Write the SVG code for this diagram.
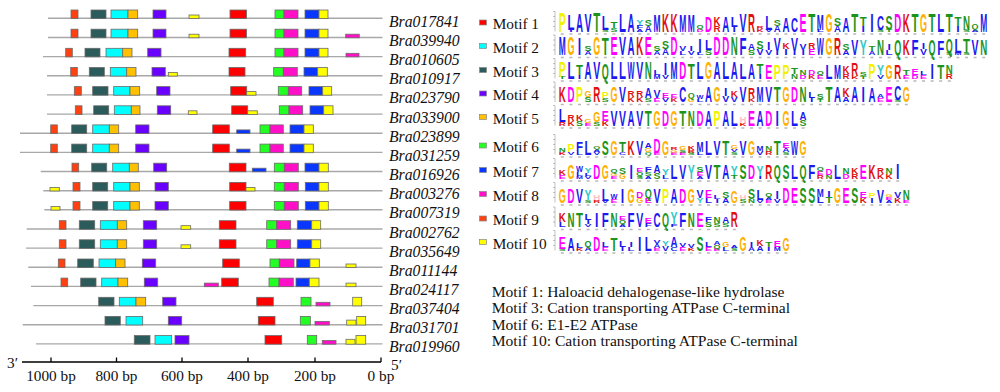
<svg xmlns="http://www.w3.org/2000/svg" width="1000" height="392" viewBox="0 0 1000 392">
<style>
.ln{stroke:#a8a8a8;stroke-width:1.4}
.bx rect{stroke:#6a6a6a;stroke-width:.8}
.m1{fill:#ff0000}.m2{fill:#00ffff}.m3{fill:#2b5b5b}.m4{fill:#6a00ff}.m5{fill:#ffc000}.m6{fill:#22ff22}.m7{fill:#0a37ff}.m8{fill:#ff10c8}.m9{fill:#ff4010}.m10{fill:#ffff00}
.gn{font-family:"Liberation Serif","Times New Roman",serif;font-style:italic;font-size:15.7px;fill:#111}
.tx{font-family:"Liberation Serif","Times New Roman",serif;font-size:15.3px;fill:#111}
.nt{font-size:15.6px}
.lg{font-family:"Liberation Sans",Arial,sans-serif;font-weight:700;font-size:13.97px}
.cb{fill:#1a1af0}.cg{fill:#1c941c}.cm{fill:#ff00ff}.cr{fill:#e01010}.co{fill:#ffb000}.cy{fill:#f2f200}.cp{fill:#ffc0c8}.cc{fill:#30c8c8}
.ax{stroke:#999;stroke-width:.6;fill:none}
.nm{stroke:#b8b8b8;stroke-width:1.6;stroke-dasharray:3 5.6}
.sq{stroke:#888;stroke-width:.7}
</style>
<defs>
<text id="A" class="lg cb" x=".8" textLength="7" lengthAdjust="spacingAndGlyphs">A</text>
<text id="C" class="lg cb" x=".8" textLength="7" lengthAdjust="spacingAndGlyphs">C</text>
<text id="F" class="lg cb" x=".8" textLength="7" lengthAdjust="spacingAndGlyphs">F</text>
<text id="I" class="lg cb" x="2.6" textLength="3.4" lengthAdjust="spacingAndGlyphs">I</text>
<text id="L" class="lg cb" x=".8" textLength="7" lengthAdjust="spacingAndGlyphs">L</text>
<text id="M" class="lg cb" x=".8" textLength="7" lengthAdjust="spacingAndGlyphs">M</text>
<text id="V" class="lg cb" x=".8" textLength="7" lengthAdjust="spacingAndGlyphs">V</text>
<text id="W" class="lg cb" x=".8" textLength="7" lengthAdjust="spacingAndGlyphs">W</text>
<text id="N" class="lg cg" x=".8" textLength="7" lengthAdjust="spacingAndGlyphs">N</text>
<text id="Q" class="lg cg" x=".8" textLength="7" lengthAdjust="spacingAndGlyphs">Q</text>
<text id="S" class="lg cg" x=".8" textLength="7" lengthAdjust="spacingAndGlyphs">S</text>
<text id="T" class="lg cg" x=".8" textLength="7" lengthAdjust="spacingAndGlyphs">T</text>
<text id="D" class="lg cm" x=".8" textLength="7" lengthAdjust="spacingAndGlyphs">D</text>
<text id="E" class="lg cm" x=".8" textLength="7" lengthAdjust="spacingAndGlyphs">E</text>
<text id="K" class="lg cr" x=".8" textLength="7" lengthAdjust="spacingAndGlyphs">K</text>
<text id="R" class="lg cr" x=".8" textLength="7" lengthAdjust="spacingAndGlyphs">R</text>
<text id="G" class="lg co" x=".8" textLength="7" lengthAdjust="spacingAndGlyphs">G</text>
<text id="P" class="lg cy" x=".8" textLength="7" lengthAdjust="spacingAndGlyphs">P</text>
<text id="H" class="lg cp" x=".8" textLength="7" lengthAdjust="spacingAndGlyphs">H</text>
<text id="Y" class="lg cc" x=".8" textLength="7" lengthAdjust="spacingAndGlyphs">Y</text>
</defs>
<rect width="1000" height="392" fill="#fff"/>

<!-- gene rows -->
<g id="Bra017841" transform="translate(0,18.3)"><line class="ln" x1="48" x2="382.5"/><g class="bx">
<rect class="m9" x="71" y="-8.3" width="7" height="8.6"/><rect class="m3" x="91" y="-8.3" width="15" height="8.6"/><rect class="m2" x="111" y="-8.3" width="17" height="8.6"/><rect class="m5" x="128" y="-8.3" width="9.7" height="8.6"/><rect class="m4" x="153" y="-8.3" width="13" height="8.6"/><rect class="m10" x="189" y="-3.3" width="10" height="3.6"/><rect class="m1" x="230" y="-8.3" width="16.5" height="8.6"/><rect class="m6" x="275" y="-8.3" width="9" height="8.6"/><rect class="m8" x="284" y="-8.3" width="14" height="8.6"/><rect class="m7" x="305" y="-8.3" width="14" height="8.6"/><rect class="m10" x="319" y="-8.3" width="9" height="8.6"/>
</g><text class="gn" x="389" y="8.5">Bra017841</text></g>

<g id="Bra039940" transform="translate(0,37.5)"><line class="ln" x1="48" x2="382.5"/><g class="bx">
<rect class="m9" x="71" y="-8.3" width="7" height="8.6"/><rect class="m3" x="91" y="-8.3" width="15" height="8.6"/><rect class="m2" x="111" y="-8.3" width="17" height="8.6"/><rect class="m5" x="128" y="-8.3" width="9.7" height="8.6"/><rect class="m4" x="153" y="-8.3" width="13" height="8.6"/><rect class="m10" x="189" y="-3.3" width="10" height="3.6"/><rect class="m1" x="230" y="-8.3" width="16.5" height="8.6"/><rect class="m6" x="275" y="-8.3" width="9" height="8.6"/><rect class="m8" x="284" y="-8.3" width="14" height="8.6"/><rect class="m7" x="305" y="-8.3" width="14" height="8.6"/><rect class="m10" x="319" y="-8.3" width="9" height="8.6"/><rect class="m8" x="345.7" y="-3.3" width="13.6" height="3.6"/>
</g><text class="gn" x="389" y="8.5">Bra039940</text></g>

<g id="Bra010605" transform="translate(0,56.6)"><line class="ln" x1="43" x2="382.5"/><g class="bx">
<rect class="m9" x="65.7" y="-8.3" width="6.6" height="8.6"/><rect class="m3" x="85" y="-8.3" width="15" height="8.6"/><rect class="m2" x="106" y="-8.3" width="16.7" height="8.6"/><rect class="m5" x="122.7" y="-8.3" width="9.3" height="8.6"/><rect class="m4" x="147.7" y="-8.3" width="13.3" height="8.6"/><rect class="m1" x="229" y="-8.3" width="16.7" height="8.6"/><rect class="m6" x="275" y="-8.3" width="9" height="8.6"/><rect class="m8" x="284" y="-8.3" width="14" height="8.6"/><rect class="m7" x="305" y="-8.3" width="14" height="8.6"/><rect class="m10" x="319" y="-8.3" width="9" height="8.6"/><rect class="m8" x="346" y="-3.3" width="13" height="3.6"/>
</g><text class="gn" x="389" y="8.5">Bra010605</text></g>

<g id="Bra010917" transform="translate(0,75.8)"><line class="ln" x1="47" x2="382.5"/><g class="bx">
<rect class="m9" x="70.7" y="-8.3" width="6.6" height="8.6"/><rect class="m3" x="89.3" y="-8.3" width="15" height="8.6"/><rect class="m2" x="110.3" y="-8.3" width="16.4" height="8.6"/><rect class="m5" x="126.7" y="-8.3" width="9.3" height="8.6"/><rect class="m4" x="152" y="-8.3" width="13.3" height="8.6"/><rect class="m10" x="168.3" y="-3.3" width="9" height="3.6"/><rect class="m1" x="229" y="-8.3" width="16" height="8.6"/><rect class="m6" x="273.7" y="-8.3" width="9.6" height="8.6"/><rect class="m8" x="283.3" y="-8.3" width="14" height="8.6"/><rect class="m7" x="304" y="-8.3" width="13.7" height="8.6"/><rect class="m10" x="317.7" y="-8.3" width="9.6" height="8.6"/>
</g><text class="gn" x="389" y="8.5">Bra010917</text></g>

<g id="Bra023790" transform="translate(0,94.9)"><line class="ln" x1="47" x2="382.5"/><g class="bx">
<rect class="m9" x="74.3" y="-8.3" width="7" height="8.6"/><rect class="m3" x="92.7" y="-8.3" width="15.3" height="8.6"/><rect class="m2" x="113.7" y="-8.3" width="16.3" height="8.6"/><rect class="m5" x="130" y="-8.3" width="9.7" height="8.6"/><rect class="m4" x="156.7" y="-8.3" width="13.3" height="8.6"/><rect class="m1" x="230.7" y="-8.3" width="16" height="8.6"/><rect class="m10" x="246.7" y="-3.3" width="9.3" height="3.6"/><rect class="m6" x="278.3" y="-8.3" width="10" height="8.6"/><rect class="m8" x="288.3" y="-8.3" width="13.4" height="8.6"/><rect class="m7" x="309" y="-8.3" width="13.7" height="8.6"/><rect class="m10" x="322.7" y="-8.3" width="9" height="8.6"/>
</g><text class="gn" x="389" y="8.5">Bra023790</text></g>

<g id="Bra033900" transform="translate(0,114.1)"><line class="ln" x1="47" x2="382.5"/><g class="bx">
<rect class="m9" x="75.3" y="-8.3" width="6.7" height="8.6"/><rect class="m3" x="93.7" y="-8.3" width="15" height="8.6"/><rect class="m2" x="114.3" y="-8.3" width="17" height="8.6"/><rect class="m5" x="131.3" y="-8.3" width="8.7" height="8.6"/><rect class="m4" x="157.3" y="-8.3" width="13.4" height="8.6"/><rect class="m10" x="188.3" y="-3.3" width="8.7" height="3.6"/><rect class="m1" x="231.7" y="-8.3" width="16" height="8.6"/><rect class="m10" x="247.7" y="-3.3" width="9.6" height="3.6"/><rect class="m6" x="279.3" y="-8.3" width="9.7" height="8.6"/><rect class="m8" x="289" y="-8.3" width="13.7" height="8.6"/><rect class="m7" x="310" y="-8.3" width="13.7" height="8.6"/><rect class="m10" x="323.7" y="-8.3" width="9.3" height="8.6"/>
</g><text class="gn" x="389" y="8.5">Bra033900</text></g>

<g id="Bra023899" transform="translate(0,133.2)"><line class="ln" x1="20" x2="382.5"/><g class="bx">
<rect class="m9" x="50.7" y="-8.3" width="6.6" height="8.6"/><rect class="m3" x="71.7" y="-8.3" width="15" height="8.6"/><rect class="m2" x="92.7" y="-8.3" width="16.6" height="8.6"/><rect class="m5" x="109.3" y="-8.3" width="9.4" height="8.6"/><rect class="m4" x="135.7" y="-8.3" width="13.3" height="8.6"/><rect class="m1" x="212.7" y="-8.3" width="16.6" height="8.6"/><rect class="m7" x="236.7" y="-3.3" width="13.3" height="3.6"/><rect class="m6" x="260" y="-8.3" width="10" height="8.6"/><rect class="m8" x="270" y="-8.3" width="13.3" height="8.6"/><rect class="m7" x="290" y="-8.3" width="14" height="8.6"/><rect class="m10" x="304" y="-8.3" width="9.3" height="8.6"/>
</g><text class="gn" x="389" y="8.5">Bra023899</text></g>

<g id="Bra031259" transform="translate(0,152.4)"><line class="ln" x1="20" x2="382.5"/><g class="bx">
<rect class="m9" x="50.7" y="-8.3" width="6.6" height="8.6"/><rect class="m3" x="71.7" y="-8.3" width="15" height="8.6"/><rect class="m2" x="92.7" y="-8.3" width="16.6" height="8.6"/><rect class="m5" x="109.3" y="-8.3" width="9.4" height="8.6"/><rect class="m4" x="135.7" y="-8.3" width="13.3" height="8.6"/><rect class="m1" x="212.7" y="-8.3" width="16.6" height="8.6"/><rect class="m7" x="236.7" y="-3.3" width="13.3" height="3.6"/><rect class="m6" x="260" y="-8.3" width="10" height="8.6"/><rect class="m8" x="270" y="-8.3" width="13.3" height="8.6"/><rect class="m7" x="290" y="-8.3" width="14" height="8.6"/><rect class="m10" x="304" y="-8.3" width="9.3" height="8.6"/>
</g><text class="gn" x="389" y="8.5">Bra031259</text></g>

<g id="Bra016926" transform="translate(0,171.5)"><line class="ln" x1="40.7" x2="382.5"/><g class="bx">
<rect class="m9" x="72" y="-8.3" width="6.7" height="8.6"/><rect class="m3" x="91.7" y="-8.3" width="15" height="8.6"/><rect class="m2" x="112.7" y="-8.3" width="16.6" height="8.6"/><rect class="m5" x="129.3" y="-8.3" width="9" height="8.6"/><rect class="m4" x="153.7" y="-8.3" width="13" height="8.6"/><rect class="m1" x="229.3" y="-8.3" width="16.7" height="8.6"/><rect class="m7" x="252.3" y="-3.3" width="13.7" height="3.6"/><rect class="m6" x="274.3" y="-8.3" width="10" height="8.6"/><rect class="m8" x="284.3" y="-8.3" width="14" height="8.6"/><rect class="m7" x="305" y="-8.3" width="14" height="8.6"/><rect class="m10" x="319" y="-8.3" width="9.3" height="8.6"/>
</g><text class="gn" x="389" y="8.5">Bra016926</text></g>

<g id="Bra003276" transform="translate(0,190.7)"><line class="ln" x1="43.3" x2="382.5"/><g class="bx">
<rect class="m10" x="50" y="-3.3" width="9.3" height="3.6"/><rect class="m9" x="73" y="-8.3" width="7" height="8.6"/><rect class="m3" x="92.7" y="-8.3" width="15" height="8.6"/><rect class="m2" x="113.7" y="-8.3" width="16.3" height="8.6"/><rect class="m5" x="130" y="-8.3" width="9.3" height="8.6"/><rect class="m4" x="155" y="-8.3" width="13.3" height="8.6"/><rect class="m1" x="229.7" y="-8.3" width="16.3" height="8.6"/><rect class="m10" x="246" y="-3.3" width="9" height="3.6"/><rect class="m6" x="274.3" y="-8.3" width="10" height="8.6"/><rect class="m8" x="284.3" y="-8.3" width="14" height="8.6"/><rect class="m7" x="305.3" y="-8.3" width="13.7" height="8.6"/><rect class="m10" x="319" y="-8.3" width="9.3" height="8.6"/>
</g><text class="gn" x="389" y="8.5">Bra003276</text></g>

<g id="Bra007319" transform="translate(0,209.8)"><line class="ln" x1="44.3" x2="382.5"/><g class="bx">
<rect class="m10" x="51" y="-3.3" width="9" height="3.6"/><rect class="m9" x="73" y="-8.3" width="7" height="8.6"/><rect class="m3" x="92.7" y="-8.3" width="15" height="8.6"/><rect class="m2" x="113.7" y="-8.3" width="16.3" height="8.6"/><rect class="m5" x="130" y="-8.3" width="9.3" height="8.6"/><rect class="m4" x="155" y="-8.3" width="13.3" height="8.6"/><rect class="m1" x="229.7" y="-8.3" width="16.3" height="8.6"/><rect class="m6" x="274.3" y="-8.3" width="10" height="8.6"/><rect class="m8" x="284.3" y="-8.3" width="14" height="8.6"/><rect class="m7" x="305.3" y="-8.3" width="13.7" height="8.6"/><rect class="m10" x="319" y="-8.3" width="9.3" height="8.6"/>
</g><text class="gn" x="389" y="8.5">Bra007319</text></g>

<g id="Bra002762" transform="translate(0,229)"><line class="ln" x1="26.7" x2="382.5"/><g class="bx">
<rect class="m9" x="59.3" y="-8.3" width="6.7" height="8.6"/><rect class="m3" x="79.3" y="-8.3" width="15.4" height="8.6"/><rect class="m2" x="100.3" y="-8.3" width="17" height="8.6"/><rect class="m5" x="117.3" y="-8.3" width="9.4" height="8.6"/><rect class="m4" x="143.3" y="-8.3" width="13.4" height="8.6"/><rect class="m10" x="181" y="-3.3" width="9.7" height="3.6"/><rect class="m1" x="219.3" y="-8.3" width="16.7" height="8.6"/><rect class="m6" x="266.7" y="-8.3" width="10" height="8.6"/><rect class="m8" x="276.7" y="-8.3" width="14" height="8.6"/><rect class="m7" x="297.3" y="-8.3" width="14.4" height="8.6"/><rect class="m10" x="311.7" y="-8.3" width="9" height="8.6"/>
</g><text class="gn" x="389" y="8.5">Bra002762</text></g>

<g id="Bra035649" transform="translate(0,248.1)"><line class="ln" x1="26" x2="382.5"/><g class="bx">
<rect class="m9" x="59.3" y="-8.3" width="6.7" height="8.6"/><rect class="m3" x="79.3" y="-8.3" width="15.4" height="8.6"/><rect class="m2" x="100.3" y="-8.3" width="17" height="8.6"/><rect class="m5" x="117.3" y="-8.3" width="9.4" height="8.6"/><rect class="m4" x="143.3" y="-8.3" width="13.4" height="8.6"/><rect class="m10" x="181" y="-3.3" width="9.7" height="3.6"/><rect class="m1" x="219.3" y="-8.3" width="16.7" height="8.6"/><rect class="m6" x="266.7" y="-8.3" width="10" height="8.6"/><rect class="m8" x="276.7" y="-8.3" width="14" height="8.6"/><rect class="m7" x="297.3" y="-8.3" width="14.4" height="8.6"/><rect class="m10" x="311.7" y="-8.3" width="9" height="8.6"/>
</g><text class="gn" x="389" y="8.5">Bra035649</text></g>

<g id="Bra011144" transform="translate(0,267.3)"><line class="ln" x1="28.3" x2="382.5"/><g class="bx">
<rect class="m9" x="58.3" y="-8.3" width="6.7" height="8.6"/><rect class="m3" x="77.7" y="-8.3" width="15.6" height="8.6"/><rect class="m2" x="99" y="-8.3" width="16.7" height="8.6"/><rect class="m5" x="115.7" y="-8.3" width="9.3" height="8.6"/><rect class="m4" x="142.3" y="-8.3" width="13.4" height="8.6"/><rect class="m1" x="222.7" y="-8.3" width="16.6" height="8.6"/><rect class="m6" x="270" y="-8.3" width="9.3" height="8.6"/><rect class="m8" x="279.3" y="-8.3" width="14.7" height="8.6"/><rect class="m7" x="296.7" y="-8.3" width="13.3" height="8.6"/><rect class="m10" x="310" y="-8.3" width="9.3" height="8.6"/><rect class="m10" x="346" y="-3.3" width="10" height="3.6"/>
</g><text class="gn" x="389" y="8.5">Bra011144</text></g>

<g id="Bra024117" transform="translate(0,286.4)"><line class="ln" x1="31" x2="382.5"/><g class="bx">
<rect class="m9" x="61" y="-8.3" width="6.7" height="8.6"/><rect class="m3" x="80.7" y="-8.3" width="15.3" height="8.6"/><rect class="m2" x="101.7" y="-8.3" width="16.3" height="8.6"/><rect class="m5" x="118" y="-8.3" width="9.7" height="8.6"/><rect class="m4" x="144.3" y="-8.3" width="13.4" height="8.6"/><rect class="m8" x="204.3" y="-3.3" width="14" height="3.6"/><rect class="m1" x="221.7" y="-8.3" width="16.6" height="8.6"/><rect class="m6" x="269" y="-8.3" width="10" height="8.6"/><rect class="m8" x="279" y="-8.3" width="14.3" height="8.6"/><rect class="m7" x="296" y="-8.3" width="13.3" height="8.6"/><rect class="m10" x="309.3" y="-8.3" width="9.7" height="8.6"/><rect class="m10" x="346" y="-3.3" width="10" height="3.6"/>
</g><text class="gn" x="389" y="8.5">Bra024117</text></g>

<g id="Bra037404" transform="translate(0,305.6)"><line class="ln" x1="33.3" x2="382.5"/><g class="bx">
<rect class="m3" x="98.7" y="-8.3" width="15.3" height="8.6"/><rect class="m2" x="119.3" y="-8.3" width="16.7" height="8.6"/><rect class="m5" x="136" y="-8.3" width="9.7" height="8.6"/><rect class="m4" x="162.7" y="-8.3" width="13.3" height="8.6"/><rect class="m1" x="256.7" y="-8.3" width="16.6" height="8.6"/><rect class="m6" x="301" y="-8.3" width="10" height="8.6"/><rect class="m8" x="316" y="-3.3" width="14" height="3.6"/><rect class="m10" x="352.7" y="-8.3" width="9" height="8.6"/>
</g><text class="gn" x="389" y="8.5">Bra037404</text></g>

<g id="Bra031701" transform="translate(0,324.7)"><line class="ln" x1="22.7" x2="382.5"/><g class="bx">
<rect class="m3" x="105" y="-8.3" width="15.3" height="8.6"/><rect class="m2" x="126" y="-8.3" width="16.7" height="8.6"/><rect class="m4" x="168.3" y="-8.3" width="13.4" height="8.6"/><rect class="m1" x="258.3" y="-8.3" width="16.7" height="8.6"/><rect class="m6" x="300.3" y="-8.3" width="10" height="8.6"/><rect class="m8" x="315" y="-3.3" width="14.3" height="3.6"/><rect class="m10" x="346.7" y="-4.6" width="9.3" height="4.9"/><rect class="m10" x="356.7" y="-8.3" width="9" height="8.6"/>
</g><text class="gn" x="389" y="8.5">Bra031701</text></g>

<g id="Bra019960" transform="translate(0,343.9)"><line class="ln" x1="36" x2="382.5"/><g class="bx">
<rect class="m3" x="134.3" y="-8.3" width="15.7" height="8.6"/><rect class="m2" x="155" y="-8.3" width="16.7" height="8.6"/><rect class="m4" x="175" y="-8.3" width="14" height="8.6"/><rect class="m1" x="265" y="-8.3" width="16.7" height="8.6"/><rect class="m6" x="307.3" y="-8.3" width="9.4" height="8.6"/><rect class="m8" x="322.3" y="-3.3" width="13.7" height="3.6"/><rect class="m10" x="346" y="-4.6" width="9" height="4.9"/><rect class="m10" x="356" y="-8.3" width="9.7" height="8.6"/>
</g><text class="gn" x="389" y="8">Bra019960</text></g>

<!-- axis -->
<g id="axis">
<path d="M22,362H381M51,357.5V362M116.5,357.5V362M182,357.5V362M248,357.5V362M315,357.5V362M381,357.5V362" stroke="#000" stroke-width="1.3" fill="none"/>
<text class="tx" x="7" y="368" font-size="16">3′</text>
<text class="tx" x="391" y="369.5" font-size="15">5′</text>
<g class="tx" text-anchor="middle">
<text x="51" y="381">1000 bp</text><text x="116.5" y="381">800 bp</text><text x="182" y="381">600 bp</text><text x="248" y="381">400 bp</text><text x="315" y="381">200 bp</text><text x="381" y="381">0 bp</text>
</g>
</g>

<!-- legend -->
<g id="legend">
<rect class="sq m1" x="479.5" y="20" width="7" height="5"/><text class="tx" x="492.7" y="29">Motif 1</text>
<rect class="sq m2" x="479.5" y="43.5" width="7" height="5"/><text class="tx" x="492.7" y="52.5">Motif 2</text>
<rect class="sq m3" x="479.5" y="67.5" width="7" height="5"/><text class="tx" x="492.7" y="76.5">Motif 3</text>
<rect class="sq m4" x="479.5" y="91" width="7" height="5"/><text class="tx" x="492.7" y="100">Motif 4</text>
<rect class="sq m5" x="479.5" y="114.5" width="7" height="5"/><text class="tx" x="492.7" y="123.5">Motif 5</text>
<rect class="sq m6" x="479.5" y="143" width="7" height="5"/><text class="tx" x="492.7" y="152">Motif 6</text>
<rect class="sq m7" x="479.5" y="167.5" width="7" height="5"/><text class="tx" x="492.7" y="176.5">Motif 7</text>
<rect class="sq m8" x="479.5" y="191.5" width="7" height="5"/><text class="tx" x="492.7" y="200.5">Motif 8</text>
<rect class="sq m9" x="479.5" y="216" width="7" height="5"/><text class="tx" x="492.7" y="225">Motif 9</text>
<rect class="sq m10" x="479.5" y="239.5" width="7" height="5"/><text class="tx" x="492.7" y="248.5">Motif 10</text>
</g>

<!-- logos -->
<g id="logo1" transform="translate(558,31.5)">
<path class="ax" d="M-3,-20V0M-5,-20h2M-5,-15h2M-5,-10h2M-5,-5h2"/><line class="nm" x1="2.8" x2="430" y1="2.5" y2="2.5"/>
<use href="#P" transform="translate(0,0)scale(1,2)"/>
<use href="#I" transform="translate(8.6,0)scale(1,.2)"/><use href="#L" transform="translate(8.6,-2)scale(1,1.6)"/>
<use href="#A" transform="translate(17.2,0)scale(1,1.8)"/>
<use href="#V" transform="translate(25.8,0)scale(1,1.8)"/>
<use href="#T" transform="translate(34.4,0)scale(1,2)"/>
<use href="#S" transform="translate(43,0)scale(1,.2)"/><use href="#L" transform="translate(43,-2)scale(1,1.4)"/>
<use href="#S" transform="translate(51.6,0)scale(1,.4)"/><use href="#T" transform="translate(51.6,-4)scale(1,.7)"/>
<use href="#L" transform="translate(60.2,0)scale(1,1.8)"/>
<use href="#A" transform="translate(68.8,0)scale(1,1.8)"/>
<use href="#A" transform="translate(77.4,0)scale(1,.3)"/><use href="#F" transform="translate(77.4,-3)scale(1,.4)"/><use href="#Y" transform="translate(77.4,-7)scale(1,.5)"/>
<use href="#A" transform="translate(86,0)scale(1,.6)"/><use href="#S" transform="translate(86,-6)scale(1,.7)"/>
<use href="#M" transform="translate(94.6,0)scale(1,1.7)"/>
<use href="#K" transform="translate(103.2,0)scale(1,1.8)"/>
<use href="#K" transform="translate(111.8,0)scale(1,1.8)"/>
<use href="#M" transform="translate(120.4,0)scale(1,1.7)"/>
<use href="#M" transform="translate(129,0)scale(1,1.7)"/>
<use href="#D" transform="translate(137.6,0)scale(1,.3)"/><use href="#Q" transform="translate(137.6,-3)scale(1,.4)"/>
<use href="#D" transform="translate(146.2,0)scale(1,1.6)"/>
<use href="#R" transform="translate(154.8,0)scale(1,.6)"/><use href="#K" transform="translate(154.8,-6)scale(1,.9)"/>
<use href="#A" transform="translate(163.4,0)scale(1,1.6)"/>
<use href="#I" transform="translate(172,0)scale(1,.5)"/><use href="#L" transform="translate(172,-5)scale(1,1)"/>
<use href="#V" transform="translate(180.6,0)scale(1,1.8)"/>
<use href="#R" transform="translate(189.2,0)scale(1,1.8)"/>
<use href="#K" transform="translate(197.8,0)scale(1,.3)"/><use href="#R" transform="translate(197.8,-3)scale(1,.3)"/>
<use href="#V" transform="translate(206.4,0)scale(1,.2)"/><use href="#L" transform="translate(206.4,-2)scale(1,1.5)"/>
<use href="#A" transform="translate(215,0)scale(1,.6)"/><use href="#S" transform="translate(215,-6)scale(1,.7)"/>
<use href="#A" transform="translate(223.6,0)scale(1,1.5)"/>
<use href="#C" transform="translate(232.2,0)scale(1,1.5)"/>
<use href="#E" transform="translate(240.8,0)scale(1,1.9)"/>
<use href="#T" transform="translate(249.4,0)scale(1,1.8)"/>
<use href="#L" transform="translate(258,0)scale(1,.2)"/><use href="#M" transform="translate(258,-2)scale(1,1.6)"/>
<use href="#G" transform="translate(266.6,0)scale(1,1.9)"/>
<use href="#A" transform="translate(275.2,0)scale(1,.6)"/><use href="#S" transform="translate(275.2,-6)scale(1,.8)"/>
<use href="#A" transform="translate(283.8,0)scale(1,1.4)"/>
<use href="#T" transform="translate(292.4,0)scale(1,1.8)"/>
<use href="#I" transform="translate(301,0)scale(1,.6)"/><use href="#T" transform="translate(301,-6)scale(1,.9)"/>
<use href="#I" transform="translate(309.6,0)scale(1,1.8)"/>
<use href="#S" transform="translate(318.2,0)scale(1,.2)"/><use href="#C" transform="translate(318.2,-2)scale(1,1.5)"/>
<use href="#T" transform="translate(326.8,0)scale(1,.2)"/><use href="#S" transform="translate(326.8,-2)scale(1,1.5)"/>
<use href="#D" transform="translate(335.4,0)scale(1,1.9)"/>
<use href="#K" transform="translate(344,0)scale(1,1.9)"/>
<use href="#T" transform="translate(352.6,0)scale(1,1.8)"/>
<use href="#G" transform="translate(361.2,0)scale(1,1.9)"/>
<use href="#T" transform="translate(369.8,0)scale(1,1.8)"/>
<use href="#L" transform="translate(378.4,0)scale(1,1.8)"/>
<use href="#T" transform="translate(387,0)scale(1,1.8)"/>
<use href="#I" transform="translate(395.6,0)scale(1,.6)"/><use href="#T" transform="translate(395.6,-6)scale(1,.9)"/>
<use href="#S" transform="translate(404.2,0)scale(1,.2)"/><use href="#N" transform="translate(404.2,-2)scale(1,1.5)"/>
<use href="#A" transform="translate(412.8,0)scale(1,.3)"/><use href="#Q" transform="translate(412.8,-3)scale(1,.5)"/>
<use href="#M" transform="translate(421.4,0)scale(1,1.8)"/>
</g>

<g id="logo2" transform="translate(558,55)">
<path class="ax" d="M-3,-20V0M-5,-20h2M-5,-15h2M-5,-10h2M-5,-5h2"/><line class="nm" x1="2.8" x2="430" y1="2.5" y2="2.5"/>
<use href="#M" transform="translate(0,0)scale(1,1.8)"/>
<use href="#G" transform="translate(8.6,0)scale(1,1.8)"/>
<use href="#I" transform="translate(17.2,0)scale(1,1.7)"/>
<use href="#A" transform="translate(25.8,0)scale(1,.4)"/><use href="#S" transform="translate(25.8,-4)scale(1,.5)"/>
<use href="#G" transform="translate(34.4,0)scale(1,1.8)"/>
<use href="#T" transform="translate(43,0)scale(1,1.7)"/>
<use href="#E" transform="translate(51.6,0)scale(1,1.8)"/>
<use href="#V" transform="translate(60.2,0)scale(1,1.8)"/>
<use href="#A" transform="translate(68.8,0)scale(1,1.8)"/>
<use href="#K" transform="translate(77.4,0)scale(1,1.8)"/>
<use href="#E" transform="translate(86,0)scale(1,1.8)"/>
<use href="#A" transform="translate(94.6,0)scale(1,.4)"/><use href="#S" transform="translate(94.6,-4)scale(1,.5)"/>
<use href="#A" transform="translate(103.2,0)scale(1,.6)"/><use href="#S" transform="translate(103.2,-6)scale(1,.8)"/>
<use href="#D" transform="translate(111.8,0)scale(1,1.8)"/>
<use href="#L" transform="translate(120.4,0)scale(1,.4)"/><use href="#V" transform="translate(120.4,-4)scale(1,.5)"/>
<use href="#V" transform="translate(129,0)scale(1,.4)"/><use href="#I" transform="translate(129,-4)scale(1,.5)"/>
<use href="#L" transform="translate(137.6,0)scale(1,.2)"/><use href="#I" transform="translate(137.6,-2)scale(1,1.4)"/>
<use href="#S" transform="translate(146.2,0)scale(1,.5)"/><use href="#L" transform="translate(146.2,-5)scale(1,1)"/>
<use href="#D" transform="translate(154.8,0)scale(1,1.8)"/>
<use href="#D" transform="translate(163.4,0)scale(1,1.8)"/>
<use href="#N" transform="translate(172,0)scale(1,1.8)"/>
<use href="#F" transform="translate(180.6,0)scale(1,1.7)"/>
<use href="#S" transform="translate(189.2,0)scale(1,.5)"/><use href="#A" transform="translate(189.2,-5)scale(1,.6)"/>
<use href="#V" transform="translate(197.8,0)scale(1,.6)"/><use href="#S" transform="translate(197.8,-6)scale(1,.8)"/>
<use href="#V" transform="translate(206.4,0)scale(1,.5)"/><use href="#I" transform="translate(206.4,-5)scale(1,.8)"/>
<use href="#I" transform="translate(215,0)scale(1,.3)"/><use href="#V" transform="translate(215,-3)scale(1,1.5)"/>
<use href="#I" transform="translate(223.6,0)scale(1,.6)"/><use href="#K" transform="translate(223.6,-6)scale(1,.7)"/>
<use href="#I" transform="translate(232.2,0)scale(1,.3)"/><use href="#V" transform="translate(232.2,-3)scale(1,1.5)"/>
<use href="#I" transform="translate(240.8,0)scale(1,.5)"/><use href="#V" transform="translate(240.8,-5)scale(1,.6)"/>
<use href="#E" transform="translate(249.4,0)scale(1,.6)"/><use href="#R" transform="translate(249.4,-6)scale(1,.7)"/>
<use href="#W" transform="translate(258,0)scale(1,1.7)"/>
<use href="#G" transform="translate(266.6,0)scale(1,1.7)"/>
<use href="#R" transform="translate(275.2,0)scale(1,1.7)"/>
<use href="#A" transform="translate(283.8,0)scale(1,.5)"/><use href="#S" transform="translate(283.8,-5)scale(1,.7)"/>
<use href="#V" transform="translate(292.4,0)scale(1,1.6)"/>
<use href="#Y" transform="translate(301,0)scale(1,1.6)"/>
<use href="#A" transform="translate(309.6,0)scale(1,.4)"/><use href="#T" transform="translate(309.6,-4)scale(1,.5)"/>
<use href="#N" transform="translate(318.2,0)scale(1,1.6)"/>
<use href="#L" transform="translate(326.8,0)scale(1,.5)"/><use href="#I" transform="translate(326.8,-5)scale(1,.6)"/>
<use href="#Q" transform="translate(335.4,0)scale(1,1.6)"/>
<use href="#K" transform="translate(344,0)scale(1,1.6)"/>
<use href="#F" transform="translate(352.6,0)scale(1,1.6)"/>
<use href="#V" transform="translate(361.2,0)scale(1,.6)"/><use href="#I" transform="translate(361.2,-6)scale(1,.7)"/>
<use href="#Q" transform="translate(369.8,0)scale(1,1.6)"/>
<use href="#F" transform="translate(378.4,0)scale(1,1.5)"/>
<use href="#S" transform="translate(387,0)scale(1,.2)"/><use href="#Q" transform="translate(387,-2)scale(1,1.5)"/>
<use href="#M" transform="translate(395.6,0)scale(1,.2)"/><use href="#L" transform="translate(395.6,-2)scale(1,1.5)"/>
<use href="#S" transform="translate(404.2,0)scale(1,.2)"/><use href="#T" transform="translate(404.2,-2)scale(1,1.5)"/>
<use href="#V" transform="translate(412.8,0)scale(1,1.6)"/>
<use href="#N" transform="translate(421.4,0)scale(1,1.6)"/>
</g>

<g id="logo3" transform="translate(558,78.5)">
<path class="ax" d="M-3,-20V0M-5,-20h2M-5,-15h2M-5,-10h2M-5,-5h2"/><line class="nm" x1="2.8" x2="395.6" y1="2.5" y2="2.5"/>
<use href="#T" transform="translate(0,0)scale(1,.2)"/><use href="#P" transform="translate(0,-2)scale(1,1.6)"/>
<use href="#L" transform="translate(8.6,0)scale(1,1.7)"/>
<use href="#I" transform="translate(17.2,0)scale(1,.4)"/><use href="#T" transform="translate(17.2,-4)scale(1,1)"/>
<use href="#A" transform="translate(25.8,0)scale(1,1.7)"/>
<use href="#V" transform="translate(34.4,0)scale(1,1.7)"/>
<use href="#Q" transform="translate(43,0)scale(1,1.6)"/>
<use href="#L" transform="translate(51.6,0)scale(1,1.7)"/>
<use href="#L" transform="translate(60.2,0)scale(1,1.7)"/>
<use href="#W" transform="translate(68.8,0)scale(1,1.7)"/>
<use href="#V" transform="translate(77.4,0)scale(1,1.7)"/>
<use href="#N" transform="translate(86,0)scale(1,1.7)"/>
<use href="#M" transform="translate(94.6,0)scale(1,.4)"/><use href="#L" transform="translate(94.6,-4)scale(1,.5)"/>
<use href="#V" transform="translate(103.2,0)scale(1,.4)"/><use href="#I" transform="translate(103.2,-4)scale(1,1.2)"/>
<use href="#M" transform="translate(111.8,0)scale(1,1.7)"/>
<use href="#D" transform="translate(120.4,0)scale(1,1.7)"/>
<use href="#T" transform="translate(129,0)scale(1,1.6)"/>
<use href="#L" transform="translate(137.6,0)scale(1,1.7)"/>
<use href="#G" transform="translate(146.2,0)scale(1,1.7)"/>
<use href="#A" transform="translate(154.8,0)scale(1,1.7)"/>
<use href="#L" transform="translate(163.4,0)scale(1,1.7)"/>
<use href="#A" transform="translate(172,0)scale(1,1.7)"/>
<use href="#L" transform="translate(180.6,0)scale(1,1.6)"/>
<use href="#A" transform="translate(189.2,0)scale(1,1.6)"/>
<use href="#I" transform="translate(197.8,0)scale(1,.5)"/><use href="#T" transform="translate(197.8,-5)scale(1,1)"/>
<use href="#E" transform="translate(206.4,0)scale(1,1.5)"/>
<use href="#P" transform="translate(215,0)scale(1,1.5)"/>
<use href="#P" transform="translate(223.6,0)scale(1,1.5)"/>
<use href="#N" transform="translate(232.2,0)scale(1,.5)"/><use href="#T" transform="translate(232.2,-5)scale(1,.6)"/>
<use href="#D" transform="translate(240.8,0)scale(1,.4)"/><use href="#N" transform="translate(240.8,-4)scale(1,.5)"/>
<use href="#K" transform="translate(249.4,0)scale(1,.4)"/><use href="#D" transform="translate(249.4,-4)scale(1,.5)"/>
<use href="#E" transform="translate(258,0)scale(1,.4)"/><use href="#Q" transform="translate(258,-4)scale(1,.4)"/>
<use href="#L" transform="translate(266.6,0)scale(1,1.5)"/>
<use href="#M" transform="translate(275.2,0)scale(1,1.5)"/>
<use href="#R" transform="translate(283.8,0)scale(1,.5)"/><use href="#K" transform="translate(283.8,-5)scale(1,.8)"/>
<use href="#K" transform="translate(292.4,0)scale(1,.3)"/><use href="#R" transform="translate(292.4,-3)scale(1,1.3)"/>
<use href="#T" transform="translate(301,0)scale(1,.3)"/><use href="#S" transform="translate(301,-3)scale(1,.4)"/>
<use href="#P" transform="translate(309.6,0)scale(1,1.6)"/>
<use href="#V" transform="translate(318.2,0)scale(1,.4)"/><use href="#Y" transform="translate(318.2,-4)scale(1,1.1)"/>
<use href="#G" transform="translate(326.8,0)scale(1,1.5)"/>
<use href="#R" transform="translate(335.4,0)scale(1,1.4)"/>
<use href="#E" transform="translate(344,0)scale(1,.4)"/><use href="#T" transform="translate(344,-4)scale(1,.5)"/>
<use href="#D" transform="translate(352.6,0)scale(1,.4)"/><use href="#E" transform="translate(352.6,-4)scale(1,.6)"/>
<use href="#E" transform="translate(361.2,0)scale(1,.4)"/><use href="#L" transform="translate(361.2,-4)scale(1,.4)"/>
<use href="#I" transform="translate(369.8,0)scale(1,1.6)"/>
<use href="#T" transform="translate(378.4,0)scale(1,1.5)"/>
<use href="#R" transform="translate(387,0)scale(1,.5)"/><use href="#N" transform="translate(387,-5)scale(1,.9)"/>
</g>

<g id="logo4" transform="translate(558,102)">
<path class="ax" d="M-3,-20V0M-5,-20h2M-5,-15h2M-5,-10h2M-5,-5h2"/><line class="nm" x1="2.8" x2="352.6" y1="2.5" y2="2.5"/>
<use href="#K" transform="translate(0,0)scale(1,1.6)"/>
<use href="#D" transform="translate(8.6,0)scale(1,1.6)"/>
<use href="#P" transform="translate(17.2,0)scale(1,1.6)"/>
<use href="#S" transform="translate(25.8,0)scale(1,.5)"/><use href="#G" transform="translate(25.8,-5)scale(1,.6)"/>
<use href="#R" transform="translate(34.4,0)scale(1,1.6)"/>
<use href="#S" transform="translate(43,0)scale(1,.4)"/><use href="#P" transform="translate(43,-4)scale(1,.6)"/>
<use href="#G" transform="translate(51.6,0)scale(1,1.6)"/>
<use href="#V" transform="translate(60.2,0)scale(1,1.6)"/>
<use href="#K" transform="translate(68.8,0)scale(1,.5)"/><use href="#R" transform="translate(68.8,-5)scale(1,.6)"/>
<use href="#K" transform="translate(77.4,0)scale(1,.5)"/><use href="#R" transform="translate(77.4,-5)scale(1,.6)"/>
<use href="#S" transform="translate(86,0)scale(1,.4)"/><use href="#A" transform="translate(86,-4)scale(1,1)"/>
<use href="#E" transform="translate(94.6,0)scale(1,.4)"/><use href="#V" transform="translate(94.6,-4)scale(1,.8)"/>
<use href="#V" transform="translate(103.2,0)scale(1,.4)"/><use href="#E" transform="translate(103.2,-4)scale(1,.5)"/>
<use href="#K" transform="translate(111.8,0)scale(1,.4)"/><use href="#E" transform="translate(111.8,-4)scale(1,.4)"/>
<use href="#C" transform="translate(120.4,0)scale(1,1.6)"/>
<use href="#G" transform="translate(129,0)scale(1,.4)"/><use href="#Q" transform="translate(129,-4)scale(1,.5)"/>
<use href="#L" transform="translate(137.6,0)scale(1,.3)"/><use href="#W" transform="translate(137.6,-3)scale(1,.4)"/>
<use href="#A" transform="translate(146.2,0)scale(1,1.6)"/>
<use href="#G" transform="translate(154.8,0)scale(1,1.6)"/>
<use href="#V" transform="translate(163.4,0)scale(1,.6)"/><use href="#I" transform="translate(163.4,-6)scale(1,.8)"/>
<use href="#V" transform="translate(172,0)scale(1,.5)"/><use href="#K" transform="translate(172,-5)scale(1,.7)"/>
<use href="#V" transform="translate(180.6,0)scale(1,1.6)"/>
<use href="#K" transform="translate(189.2,0)scale(1,.4)"/><use href="#R" transform="translate(189.2,-4)scale(1,1.1)"/>
<use href="#M" transform="translate(197.8,0)scale(1,1.6)"/>
<use href="#V" transform="translate(206.4,0)scale(1,1.6)"/>
<use href="#T" transform="translate(215,0)scale(1,1.6)"/>
<use href="#G" transform="translate(223.6,0)scale(1,1.6)"/>
<use href="#D" transform="translate(232.2,0)scale(1,1.6)"/>
<use href="#N" transform="translate(240.8,0)scale(1,1.6)"/>
<use href="#I" transform="translate(249.4,0)scale(1,.4)"/><use href="#L" transform="translate(249.4,-4)scale(1,.6)"/>
<use href="#T" transform="translate(258,0)scale(1,.3)"/><use href="#S" transform="translate(258,-3)scale(1,.5)"/>
<use href="#T" transform="translate(266.6,0)scale(1,1.6)"/>
<use href="#A" transform="translate(275.2,0)scale(1,1.6)"/>
<use href="#A" transform="translate(283.8,0)scale(1,.5)"/><use href="#K" transform="translate(283.8,-5)scale(1,.9)"/>
<use href="#A" transform="translate(292.4,0)scale(1,1.6)"/>
<use href="#I" transform="translate(301,0)scale(1,1.6)"/>
<use href="#A" transform="translate(309.6,0)scale(1,1.5)"/>
<use href="#E" transform="translate(318.2,0)scale(1,.4)"/><use href="#A" transform="translate(318.2,-4)scale(1,.4)"/>
<use href="#E" transform="translate(326.8,0)scale(1,1.6)"/>
<use href="#S" transform="translate(335.4,0)scale(1,.2)"/><use href="#C" transform="translate(335.4,-2)scale(1,1.5)"/>
<use href="#G" transform="translate(344,0)scale(1,1.6)"/>
</g>

<g id="logo5" transform="translate(558,125.5)">
<path class="ax" d="M-3,-20V0M-5,-20h2M-5,-15h2M-5,-10h2M-5,-5h2"/><line class="nm" x1="2.8" x2="249.4" y1="2.5" y2="2.5"/>
<use href="#R" transform="translate(0,0)scale(1,.4)"/><use href="#L" transform="translate(0,-4)scale(1,1.3)"/>
<use href="#K" transform="translate(8.6,0)scale(1,.5)"/><use href="#R" transform="translate(8.6,-5)scale(1,.7)"/>
<use href="#S" transform="translate(17.2,0)scale(1,.5)"/><use href="#K" transform="translate(17.2,-5)scale(1,.6)"/>
<use href="#E" transform="translate(25.8,0)scale(1,.3)"/><use href="#G" transform="translate(25.8,-3)scale(1,.4)"/>
<use href="#S" transform="translate(34.4,0)scale(1,.4)"/><use href="#G" transform="translate(34.4,-4)scale(1,1)"/>
<use href="#K" transform="translate(43,0)scale(1,.5)"/><use href="#E" transform="translate(43,-5)scale(1,1)"/>
<use href="#V" transform="translate(51.6,0)scale(1,1.6)"/>
<use href="#V" transform="translate(60.2,0)scale(1,1.6)"/>
<use href="#A" transform="translate(68.8,0)scale(1,1.6)"/>
<use href="#V" transform="translate(77.4,0)scale(1,1.6)"/>
<use href="#T" transform="translate(86,0)scale(1,1.6)"/>
<use href="#G" transform="translate(94.6,0)scale(1,1.6)"/>
<use href="#D" transform="translate(103.2,0)scale(1,1.6)"/>
<use href="#G" transform="translate(111.8,0)scale(1,1.6)"/>
<use href="#T" transform="translate(120.4,0)scale(1,1.6)"/>
<use href="#N" transform="translate(129,0)scale(1,1.6)"/>
<use href="#D" transform="translate(137.6,0)scale(1,1.6)"/>
<use href="#A" transform="translate(146.2,0)scale(1,1.6)"/>
<use href="#P" transform="translate(154.8,0)scale(1,1.6)"/>
<use href="#A" transform="translate(163.4,0)scale(1,1.6)"/>
<use href="#L" transform="translate(172,0)scale(1,1.6)"/>
<use href="#K" transform="translate(180.6,0)scale(1,.3)"/><use href="#H" transform="translate(180.6,-3)scale(1,.6)"/>
<use href="#E" transform="translate(189.2,0)scale(1,1.6)"/>
<use href="#A" transform="translate(197.8,0)scale(1,1.6)"/>
<use href="#D" transform="translate(206.4,0)scale(1,1.6)"/>
<use href="#I" transform="translate(215,0)scale(1,1.6)"/>
<use href="#G" transform="translate(223.6,0)scale(1,1.6)"/>
<use href="#L" transform="translate(232.2,0)scale(1,1.6)"/>
<use href="#S" transform="translate(240.8,0)scale(1,.6)"/><use href="#A" transform="translate(240.8,-6)scale(1,.8)"/>
</g>

<g id="logo6" transform="translate(558,154.5)">
<path class="ax" d="M-3,-20V0M-5,-20h2M-5,-15h2M-5,-10h2M-5,-5h2"/><line class="nm" x1="2.8" x2="249.4" y1="2.5" y2="2.5"/>
<use href="#K" transform="translate(0,0)scale(1,.3)"/><use href="#N" transform="translate(0,-3)scale(1,.4)"/>
<use href="#V" transform="translate(8.6,0)scale(1,.3)"/><use href="#P" transform="translate(8.6,-3)scale(1,.8)"/>
<use href="#L" transform="translate(17.2,0)scale(1,.3)"/><use href="#F" transform="translate(17.2,-3)scale(1,1.1)"/>
<use href="#L" transform="translate(25.8,0)scale(1,1.5)"/>
<use href="#V" transform="translate(34.4,0)scale(1,.3)"/><use href="#A" transform="translate(34.4,-3)scale(1,.3)"/><use href="#Q" transform="translate(34.4,-6)scale(1,.3)"/>
<use href="#S" transform="translate(43,0)scale(1,1.5)"/>
<use href="#G" transform="translate(51.6,0)scale(1,1.5)"/>
<use href="#C" transform="translate(60.2,0)scale(1,.3)"/><use href="#T" transform="translate(60.2,-3)scale(1,1)"/>
<use href="#K" transform="translate(68.8,0)scale(1,1.5)"/>
<use href="#V" transform="translate(77.4,0)scale(1,1.5)"/>
<use href="#Q" transform="translate(86,0)scale(1,.3)"/><use href="#G" transform="translate(86,-3)scale(1,.4)"/><use href="#A" transform="translate(86,-7)scale(1,.5)"/>
<use href="#E" transform="translate(94.6,0)scale(1,.2)"/><use href="#D" transform="translate(94.6,-2)scale(1,1.4)"/>
<use href="#G" transform="translate(103.2,0)scale(1,1.5)"/>
<use href="#E" transform="translate(111.8,0)scale(1,.2)"/><use href="#G" transform="translate(111.8,-2)scale(1,.3)"/><use href="#R" transform="translate(111.8,-5)scale(1,.3)"/>
<use href="#E" transform="translate(120.4,0)scale(1,.2)"/><use href="#S" transform="translate(120.4,-2)scale(1,.3)"/><use href="#G" transform="translate(120.4,-5)scale(1,.4)"/>
<use href="#S" transform="translate(129,0)scale(1,.2)"/><use href="#R" transform="translate(129,-2)scale(1,.3)"/><use href="#K" transform="translate(129,-5)scale(1,.4)"/>
<use href="#L" transform="translate(137.6,0)scale(1,.3)"/><use href="#M" transform="translate(137.6,-3)scale(1,1.1)"/>
<use href="#L" transform="translate(146.2,0)scale(1,1.5)"/>
<use href="#V" transform="translate(154.8,0)scale(1,1.5)"/>
<use href="#T" transform="translate(163.4,0)scale(1,1.5)"/>
<use href="#S" transform="translate(172,0)scale(1,.3)"/><use href="#V" transform="translate(172,-3)scale(1,.3)"/><use href="#G" transform="translate(172,-6)scale(1,.4)"/>
<use href="#V" transform="translate(180.6,0)scale(1,1.5)"/>
<use href="#G" transform="translate(189.2,0)scale(1,1.5)"/>
<use href="#V" transform="translate(197.8,0)scale(1,.4)"/><use href="#M" transform="translate(197.8,-4)scale(1,.5)"/>
<use href="#R" transform="translate(206.4,0)scale(1,.4)"/><use href="#N" transform="translate(206.4,-4)scale(1,.5)"/>
<use href="#T" transform="translate(215,0)scale(1,1.5)"/>
<use href="#S" transform="translate(223.6,0)scale(1,.3)"/><use href="#A" transform="translate(223.6,-3)scale(1,.4)"/><use href="#E" transform="translate(223.6,-7)scale(1,.5)"/>
<use href="#W" transform="translate(232.2,0)scale(1,1.5)"/>
<use href="#G" transform="translate(240.8,0)scale(1,1.5)"/>
</g>

<g id="logo7" transform="translate(558,178.5)">
<path class="ax" d="M-3,-20V0M-5,-20h2M-5,-15h2M-5,-10h2M-5,-5h2"/><line class="nm" x1="2.8" x2="344" y1="2.5" y2="2.5"/>
<use href="#E" transform="translate(0,0)scale(1,.4)"/><use href="#K" transform="translate(0,-4)scale(1,.5)"/>
<use href="#G" transform="translate(8.6,0)scale(1,1.5)"/>
<use href="#M" transform="translate(17.2,0)scale(1,.3)"/><use href="#L" transform="translate(17.2,-3)scale(1,.4)"/><use href="#W" transform="translate(17.2,-7)scale(1,.6)"/>
<use href="#V" transform="translate(25.8,0)scale(1,.3)"/><use href="#L" transform="translate(25.8,-3)scale(1,.3)"/><use href="#Y" transform="translate(25.8,-6)scale(1,.5)"/>
<use href="#D" transform="translate(34.4,0)scale(1,1.5)"/>
<use href="#G" transform="translate(43,0)scale(1,1.5)"/>
<use href="#E" transform="translate(51.6,0)scale(1,.3)"/><use href="#G" transform="translate(51.6,-3)scale(1,.3)"/><use href="#Q" transform="translate(51.6,-6)scale(1,.4)"/>
<use href="#G" transform="translate(60.2,0)scale(1,.5)"/><use href="#S" transform="translate(60.2,-5)scale(1,.6)"/>
<use href="#I" transform="translate(68.8,0)scale(1,1.5)"/>
<use href="#S" transform="translate(77.4,0)scale(1,.3)"/><use href="#Q" transform="translate(77.4,-3)scale(1,.4)"/><use href="#E" transform="translate(77.4,-7)scale(1,.4)"/>
<use href="#A" transform="translate(86,0)scale(1,.3)"/><use href="#S" transform="translate(86,-3)scale(1,.4)"/><use href="#F" transform="translate(86,-7)scale(1,.5)"/>
<use href="#S" transform="translate(94.6,0)scale(1,.6)"/><use href="#A" transform="translate(94.6,-6)scale(1,.8)"/>
<use href="#L" transform="translate(103.2,0)scale(1,.4)"/><use href="#Y" transform="translate(103.2,-4)scale(1,.6)"/>
<use href="#L" transform="translate(111.8,0)scale(1,1.5)"/>
<use href="#V" transform="translate(120.4,0)scale(1,1.5)"/>
<use href="#Y" transform="translate(129,0)scale(1,1.5)"/>
<use href="#A" transform="translate(137.6,0)scale(1,.3)"/><use href="#E" transform="translate(137.6,-3)scale(1,.4)"/><use href="#S" transform="translate(137.6,-7)scale(1,.5)"/>
<use href="#V" transform="translate(146.2,0)scale(1,1.5)"/>
<use href="#T" transform="translate(154.8,0)scale(1,1.5)"/>
<use href="#A" transform="translate(163.4,0)scale(1,1.5)"/>
<use href="#T" transform="translate(172,0)scale(1,.4)"/><use href="#Y" transform="translate(172,-4)scale(1,.9)"/>
<use href="#S" transform="translate(180.6,0)scale(1,1.4)"/>
<use href="#D" transform="translate(189.2,0)scale(1,1.4)"/>
<use href="#I" transform="translate(197.8,0)scale(1,.3)"/><use href="#Y" transform="translate(197.8,-3)scale(1,1.1)"/>
<use href="#R" transform="translate(206.4,0)scale(1,1.4)"/>
<use href="#Q" transform="translate(215,0)scale(1,1.4)"/>
<use href="#S" transform="translate(223.6,0)scale(1,1.4)"/>
<use href="#L" transform="translate(232.2,0)scale(1,1.4)"/>
<use href="#Q" transform="translate(240.8,0)scale(1,1.4)"/>
<use href="#F" transform="translate(249.4,0)scale(1,1.4)"/>
<use href="#R" transform="translate(258,0)scale(1,.4)"/><use href="#E" transform="translate(258,-4)scale(1,.4)"/><use href="#Q" transform="translate(258,-8)scale(1,.4)"/>
<use href="#N" transform="translate(266.6,0)scale(1,.4)"/><use href="#D" transform="translate(266.6,-4)scale(1,.6)"/>
<use href="#L" transform="translate(275.2,0)scale(1,1.5)"/>
<use href="#D" transform="translate(283.8,0)scale(1,.5)"/><use href="#N" transform="translate(283.8,-5)scale(1,.6)"/>
<use href="#R" transform="translate(292.4,0)scale(1,.5)"/><use href="#K" transform="translate(292.4,-5)scale(1,.6)"/>
<use href="#E" transform="translate(301,0)scale(1,1.4)"/>
<use href="#K" transform="translate(309.6,0)scale(1,1.4)"/>
<use href="#K" transform="translate(318.2,0)scale(1,.5)"/><use href="#R" transform="translate(318.2,-5)scale(1,.7)"/>
<use href="#K" transform="translate(326.8,0)scale(1,.5)"/><use href="#N" transform="translate(326.8,-5)scale(1,.7)"/>
<use href="#I" transform="translate(335.4,0)scale(1,1.6)"/>
</g>

<g id="logo8" transform="translate(558,202.5)">
<path class="ax" d="M-3,-20V0M-5,-20h2M-5,-15h2M-5,-10h2M-5,-5h2"/><line class="nm" x1="2.8" x2="352.6" y1="2.5" y2="2.5"/>
<use href="#G" transform="translate(0,0)scale(1,1.5)"/>
<use href="#D" transform="translate(8.6,0)scale(1,1.5)"/>
<use href="#V" transform="translate(17.2,0)scale(1,1.5)"/>
<use href="#S" transform="translate(25.8,0)scale(1,.3)"/><use href="#Y" transform="translate(25.8,-3)scale(1,1)"/>
<use href="#R" transform="translate(34.4,0)scale(1,.3)"/><use href="#H" transform="translate(34.4,-3)scale(1,.5)"/>
<use href="#V" transform="translate(43,0)scale(1,.2)"/><use href="#L" transform="translate(43,-2)scale(1,1.2)"/>
<use href="#E" transform="translate(51.6,0)scale(1,.4)"/><use href="#W" transform="translate(51.6,-4)scale(1,.5)"/>
<use href="#I" transform="translate(60.2,0)scale(1,1.4)"/>
<use href="#G" transform="translate(68.8,0)scale(1,1.5)"/>
<use href="#G" transform="translate(77.4,0)scale(1,.5)"/><use href="#D" transform="translate(77.4,-5)scale(1,.7)"/>
<use href="#E" transform="translate(86,0)scale(1,.5)"/><use href="#Q" transform="translate(86,-5)scale(1,.9)"/>
<use href="#V" transform="translate(94.6,0)scale(1,1.5)"/>
<use href="#P" transform="translate(103.2,0)scale(1,1.5)"/>
<use href="#A" transform="translate(111.8,0)scale(1,1.5)"/>
<use href="#D" transform="translate(120.4,0)scale(1,1.5)"/>
<use href="#G" transform="translate(129,0)scale(1,1.5)"/>
<use href="#Y" transform="translate(137.6,0)scale(1,.5)"/><use href="#V" transform="translate(137.6,-5)scale(1,.8)"/>
<use href="#L" transform="translate(146.2,0)scale(1,.5)"/><use href="#E" transform="translate(146.2,-5)scale(1,.8)"/>
<use href="#I" transform="translate(154.8,0)scale(1,.4)"/><use href="#L" transform="translate(154.8,-4)scale(1,.4)"/>
<use href="#A" transform="translate(163.4,0)scale(1,.5)"/><use href="#S" transform="translate(163.4,-5)scale(1,.6)"/>
<use href="#G" transform="translate(172,0)scale(1,1.2)"/>
<use href="#S" transform="translate(180.6,0)scale(1,.4)"/><use href="#H" transform="translate(180.6,-4)scale(1,.4)"/>
<use href="#N" transform="translate(189.2,0)scale(1,.4)"/><use href="#S" transform="translate(189.2,-4)scale(1,1)"/>
<use href="#V" transform="translate(197.8,0)scale(1,.3)"/><use href="#L" transform="translate(197.8,-3)scale(1,1.1)"/>
<use href="#E" transform="translate(206.4,0)scale(1,.3)"/><use href="#A" transform="translate(206.4,-3)scale(1,.3)"/><use href="#Q" transform="translate(206.4,-6)scale(1,.4)"/>
<use href="#V" transform="translate(215,0)scale(1,.4)"/><use href="#I" transform="translate(215,-4)scale(1,.8)"/>
<use href="#D" transform="translate(223.6,0)scale(1,1.6)"/>
<use href="#E" transform="translate(232.2,0)scale(1,1.6)"/>
<use href="#S" transform="translate(240.8,0)scale(1,1.6)"/>
<use href="#S" transform="translate(249.4,0)scale(1,1.6)"/>
<use href="#L" transform="translate(258,0)scale(1,.6)"/><use href="#M" transform="translate(258,-6)scale(1,.8)"/>
<use href="#T" transform="translate(266.6,0)scale(1,.6)"/><use href="#I" transform="translate(266.6,-6)scale(1,.7)"/>
<use href="#G" transform="translate(275.2,0)scale(1,1.6)"/>
<use href="#E" transform="translate(283.8,0)scale(1,1.6)"/>
<use href="#S" transform="translate(292.4,0)scale(1,1.6)"/>
<use href="#K" transform="translate(301,0)scale(1,.5)"/><use href="#E" transform="translate(301,-5)scale(1,.6)"/>
<use href="#I" transform="translate(309.6,0)scale(1,.5)"/><use href="#P" transform="translate(309.6,-5)scale(1,.5)"/>
<use href="#V" transform="translate(318.2,0)scale(1,1.3)"/>
<use href="#A" transform="translate(326.8,0)scale(1,.3)"/><use href="#E" transform="translate(326.8,-3)scale(1,.3)"/><use href="#G" transform="translate(326.8,-6)scale(1,.3)"/>
<use href="#K" transform="translate(335.4,0)scale(1,.5)"/><use href="#V" transform="translate(335.4,-5)scale(1,.6)"/>
<use href="#E" transform="translate(344,0)scale(1,.3)"/><use href="#N" transform="translate(344,-3)scale(1,1)"/>
</g>

<g id="logo9" transform="translate(558,227)">
<path class="ax" d="M-3,-20V0M-5,-20h2M-5,-15h2M-5,-10h2M-5,-5h2"/><line class="nm" x1="2.8" x2="180.6" y1="2.5" y2="2.5"/>
<use href="#L" transform="translate(0,0)scale(1,.5)"/><use href="#K" transform="translate(0,-5)scale(1,.9)"/>
<use href="#N" transform="translate(8.6,0)scale(1,1.5)"/>
<use href="#T" transform="translate(17.2,0)scale(1,1.4)"/>
<use href="#V" transform="translate(25.8,0)scale(1,.3)"/><use href="#I" transform="translate(25.8,-3)scale(1,.4)"/><use href="#L" transform="translate(25.8,-7)scale(1,.6)"/>
<use href="#I" transform="translate(34.4,0)scale(1,1.5)"/>
<use href="#F" transform="translate(43,0)scale(1,1.5)"/>
<use href="#N" transform="translate(51.6,0)scale(1,1.5)"/>
<use href="#A" transform="translate(60.2,0)scale(1,.3)"/><use href="#Q" transform="translate(60.2,-3)scale(1,.4)"/><use href="#E" transform="translate(60.2,-7)scale(1,.4)"/>
<use href="#F" transform="translate(68.8,0)scale(1,1.5)"/>
<use href="#V" transform="translate(77.4,0)scale(1,1.5)"/>
<use href="#F" transform="translate(86,0)scale(1,.4)"/><use href="#E" transform="translate(86,-4)scale(1,.5)"/>
<use href="#C" transform="translate(94.6,0)scale(1,1.5)"/>
<use href="#Q" transform="translate(103.2,0)scale(1,1.5)"/>
<use href="#F" transform="translate(111.8,0)scale(1,.3)"/><use href="#Y" transform="translate(111.8,-3)scale(1,1.2)"/>
<use href="#F" transform="translate(120.4,0)scale(1,1.5)"/>
<use href="#N" transform="translate(129,0)scale(1,1.5)"/>
<use href="#E" transform="translate(137.6,0)scale(1,1.5)"/>
<use href="#S" transform="translate(146.2,0)scale(1,.5)"/><use href="#F" transform="translate(146.2,-5)scale(1,.5)"/>
<use href="#S" transform="translate(154.8,0)scale(1,.4)"/><use href="#N" transform="translate(154.8,-4)scale(1,.7)"/>
<use href="#S" transform="translate(163.4,0)scale(1,.4)"/><use href="#A" transform="translate(163.4,-4)scale(1,.7)"/>
<use href="#R" transform="translate(172,0)scale(1,1.6)"/>
</g>

<g id="logo10" transform="translate(558,250.5)">
<path class="ax" d="M-3,-20V0M-5,-20h2M-5,-15h2M-5,-10h2M-5,-5h2"/><line class="nm" x1="2.8" x2="232.2" y1="2.5" y2="2.5"/>
<use href="#S" transform="translate(0,0)scale(1,.2)"/><use href="#E" transform="translate(0,-2)scale(1,1.2)"/>
<use href="#A" transform="translate(8.6,0)scale(1,1.3)"/>
<use href="#K" transform="translate(17.2,0)scale(1,.3)"/><use href="#L" transform="translate(17.2,-3)scale(1,.5)"/>
<use href="#A" transform="translate(25.8,0)scale(1,.4)"/><use href="#Q" transform="translate(25.8,-4)scale(1,.6)"/>
<use href="#D" transform="translate(34.4,0)scale(1,1.4)"/>
<use href="#E" transform="translate(43,0)scale(1,.4)"/><use href="#L" transform="translate(43,-4)scale(1,.5)"/>
<use href="#T" transform="translate(51.6,0)scale(1,1.3)"/>
<use href="#I" transform="translate(60.2,0)scale(1,.4)"/><use href="#L" transform="translate(60.2,-4)scale(1,.6)"/>
<use href="#L" transform="translate(68.8,0)scale(1,.4)"/><use href="#I" transform="translate(68.8,-4)scale(1,.5)"/>
<use href="#I" transform="translate(77.4,0)scale(1,1.5)"/>
<use href="#L" transform="translate(86,0)scale(1,1.5)"/>
<use href="#E" transform="translate(94.6,0)scale(1,.3)"/><use href="#A" transform="translate(94.6,-3)scale(1,.4)"/><use href="#V" transform="translate(94.6,-7)scale(1,.4)"/>
<use href="#V" transform="translate(103.2,0)scale(1,.5)"/><use href="#Y" transform="translate(103.2,-5)scale(1,.5)"/>
<use href="#C" transform="translate(111.8,0)scale(1,.4)"/><use href="#A" transform="translate(111.8,-4)scale(1,1)"/>
<use href="#E" transform="translate(120.4,0)scale(1,.4)"/><use href="#V" transform="translate(120.4,-4)scale(1,.4)"/>
<use href="#K" transform="translate(129,0)scale(1,.3)"/><use href="#V" transform="translate(129,-3)scale(1,.4)"/>
<use href="#S" transform="translate(137.6,0)scale(1,1.4)"/>
<use href="#E" transform="translate(146.2,0)scale(1,.4)"/><use href="#L" transform="translate(146.2,-4)scale(1,.5)"/>
<use href="#E" transform="translate(154.8,0)scale(1,.2)"/><use href="#Q" transform="translate(154.8,-2)scale(1,.4)"/><use href="#A" transform="translate(154.8,-6)scale(1,.4)"/>
<use href="#L" transform="translate(163.4,0)scale(1,.4)"/><use href="#G" transform="translate(163.4,-4)scale(1,.5)"/>
<use href="#S" transform="translate(172,0)scale(1,.3)"/><use href="#A" transform="translate(172,-3)scale(1,.3)"/>
<use href="#G" transform="translate(180.6,0)scale(1,1.4)"/>
<use href="#A" transform="translate(189.2,0)scale(1,.4)"/><use href="#I" transform="translate(189.2,-4)scale(1,.5)"/>
<use href="#A" transform="translate(197.8,0)scale(1,.5)"/><use href="#K" transform="translate(197.8,-5)scale(1,.6)"/>
<use href="#I" transform="translate(206.4,0)scale(1,.4)"/><use href="#T" transform="translate(206.4,-4)scale(1,.5)"/>
<use href="#M" transform="translate(215,0)scale(1,.4)"/><use href="#E" transform="translate(215,-4)scale(1,.7)"/>
<use href="#G" transform="translate(223.6,0)scale(1,1.3)"/>
</g>

<!-- annotations -->
<g id="notes" class="tx nt">
<text x="491.7" y="296.5">Motif 1: Haloacid dehalogenase-like hydrolase</text>
<text x="491.7" y="313">Motif 3: Cation transporting ATPase C-terminal</text>
<text x="491.7" y="329.5">Motif 6: E1-E2 ATPase</text>
<text x="491.7" y="346">Motif 10: Cation transporting ATPase C-terminal</text>
</g>
</svg>
